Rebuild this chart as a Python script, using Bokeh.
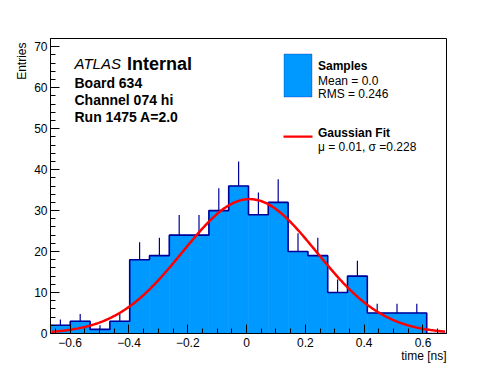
import numpy as np
from bokeh.plotting import figure
from bokeh.models import Range1d, SingleIntervalTicker, CustomJSTickFormatter, Label, BoxAnnotation, ColumnDataSource, Title
from bokeh.embed import file_html
from bokeh.resources import INLINE

# ---- data ----
x_min, x_max, n_bins = -0.667, 0.680, 20
counts = [2, 3, 1, 3, 18, 19, 24, 24, 30, 36, 29, 32, 20, 19, 10, 14, 5, 5, 5, 0]
y_max = 72
fit_const, fit_mu, fit_sigma = 32.8, 0.01, 0.228
header_lines = ["Board 634", "Channel 074 hi", "Run 1475 A=2.0"]
legend_hist = ["Samples", "Mean = 0.0", "RMS = 0.246"]
legend_fit = ["Gaussian Fit", "\u03bc = 0.01, \u03c3 =0.228"]
x_title, y_title = "time [ns]", "Entries"

FILL = "#0099ff"
EDGE = "#000099"
FONT = "Liberation Sans"

edges = np.linspace(x_min, x_max, n_bins + 1)
cnt = np.array(counts, dtype=float)
centers = 0.5 * (edges[:-1] + edges[1:])

# frame geometry in page pixels
FL, FT, FW, FH = 50, 38, 396, 295
W, H = 490, 370

p = figure(width=W, height=H, output_backend="svg", toolbar_location=None,
           x_range=Range1d(x_min, x_max), y_range=Range1d(0, y_max),
           min_border_left=FL, min_border_top=FT,
           min_border_right=W - FL - FW, min_border_bottom=H - FT - FH)
p.background_fill_color = "white"
p.border_fill_color = "white"
p.outline_line_color = "black"
p.outline_line_width = 1
p.xgrid.visible = False
p.ygrid.visible = False

def X(px):
    return x_min + (px - FL) / FW * (x_max - x_min)

def Y(py):
    return (FT + FH - py) / FH * y_max

# histogram
src = ColumnDataSource(dict(left=edges[:-1], right=edges[1:], top=cnt, bottom=np.zeros_like(cnt)))
p.quad(left="left", right="right", top="top", bottom="bottom", source=src,
       fill_color=FILL, line_color=FILL, line_width=0.6)
mask = cnt > 0
p.segment(x0=centers[mask], y0=cnt[mask], x1=centers[mask], y1=cnt[mask] + np.sqrt(cnt[mask]),
          line_color=EDGE, line_width=1.2)
p.step(x=list(edges), y=list(cnt) + [cnt[-1]], mode="after", line_color=EDGE, line_width=1.6)

# gaussian fit
xf = np.linspace(x_min + 0.005, x_max - 0.005, 300)
yf = fit_const * np.exp(-0.5 * ((xf - fit_mu) / fit_sigma) ** 2)
p.line(xf, yf, line_color="#ff0000", line_width=2.5)

# axes
for ax in (p.xaxis[0], p.yaxis[0]):
    ax.major_tick_in = 9
    ax.major_tick_out = 0
    ax.minor_tick_in = 5
    ax.minor_tick_out = 0
    ax.major_tick_line_color = "black"
    ax.minor_tick_line_color = "black"
    ax.axis_line_color = "black"
    ax.major_label_text_font = FONT
    ax.major_label_text_font_size = "12px"
    ax.major_label_text_color = "black"
p.xaxis.ticker = SingleIntervalTicker(interval=0.2, num_minor_ticks=4)
p.yaxis.ticker = SingleIntervalTicker(interval=10, num_minor_ticks=5)
p.xaxis.formatter = CustomJSTickFormatter(code="""
if (Math.abs(tick) < 1e-9) return "0";
return tick.toFixed(1).replace("-", "\u2212");
""")
p.xaxis.major_label_standoff = 4
p.yaxis.major_label_standoff = 3

# axis titles at the far end of each axis, as in ROOT
p.add_layout(Title(text=x_title, align="right", text_font=FONT, text_font_size="12px",
                   text_font_style="normal", text_color="black", standoff=-5), "below")
p.add_layout(Title(text=y_title, align="right", text_font=FONT, text_font_size="12px",
                   text_font_style="normal", text_color="black", standoff=5, offset=4), "left")

def txt(s, px, py, size, style="normal", align="left"):
    p.add_layout(Label(x=X(px), y=Y(py), text=s, text_font=FONT, text_font_size=f"{size}px",
                       text_font_style=style, text_align=align, text_baseline="alphabetic",
                       text_color="black"))

# ATLAS header
txt("ATLAS", 74, 63.3, 15, style="italic")
txt("Internal", 126.5, 63.3, 18, style="bold")
for i, s in enumerate(header_lines):
    txt(s, 74, 82.7 + i * 17, 14, style="bold")

# legend
p.add_layout(BoxAnnotation(left=X(283.5), right=X(311.5), top=Y(53.5), bottom=Y(96.5),
                           fill_color=FILL, fill_alpha=1, line_color=EDGE, line_width=1, level="overlay"))
txt(legend_hist[0], 317.5, 65, 12, style="bold")
txt(legend_hist[1], 317.5, 80, 12)
txt(legend_hist[2], 317.5, 93.3, 12)
p.add_layout(BoxAnnotation(left=X(283), right=X(312), top=Y(135), bottom=Y(137.3),
                           fill_color="#ff0000", fill_alpha=1, line_color=None, level="overlay"))
txt(legend_fit[0], 317.5, 132.7, 12, style="bold")
txt(legend_fit[1], 317.5, 146, 12)

open("out.html", "w").write(file_html(p, INLINE))
